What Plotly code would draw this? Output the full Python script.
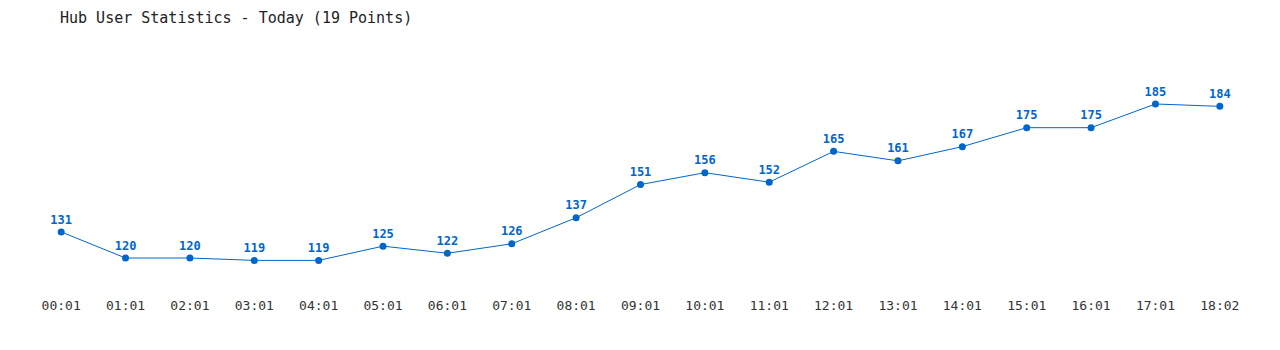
import plotly.graph_objects as go

times = ["00:01","01:01","02:01","03:01","04:01","05:01","06:01","07:01","08:01","09:01",
         "10:01","11:01","12:01","13:01","14:01","15:01","16:01","17:01","18:02"]
users = [131,120,120,119,119,125,122,126,137,151,156,152,165,161,167,175,175,185,184]

color = "#0066cc"
fig = go.Figure(go.Scatter(
    x=list(range(len(times))), y=users, mode="lines+markers+text",
    text=[str(v) for v in users], textposition="top center",
    textfont=dict(family="DejaVu Sans Mono", size=12, color=color, weight="bold"),
    line=dict(color=color, width=1), marker=dict(color=color, size=7),
    cliponaxis=False, hoverinfo="skip"))

fig.update_layout(
    width=1280, height=350, paper_bgcolor="white", plot_bgcolor="white",
    margin=dict(l=29, r=28, t=40, b=60),
    showlegend=False,
    title=dict(text="Hub User Statistics - Today (19 Points)", x=60/1280, xanchor="left",
               y=1-18/350, yanchor="middle",
               font=dict(family="DejaVu Sans Mono", size=15, color="#222")),
    xaxis=dict(range=[-0.5, 18.5], tickmode="array", tickvals=list(range(len(times))),
               ticktext=times, showgrid=False, zeroline=False, showline=False,
               ticks="outside", ticklen=3, tickcolor="rgba(0,0,0,0)",
               tickfont=dict(family="DejaVu Sans Mono", size=13, color="#333")),
    yaxis=dict(range=[106.5, 212], visible=False, showgrid=False, zeroline=False),
)
fig.write_html("out.html")
